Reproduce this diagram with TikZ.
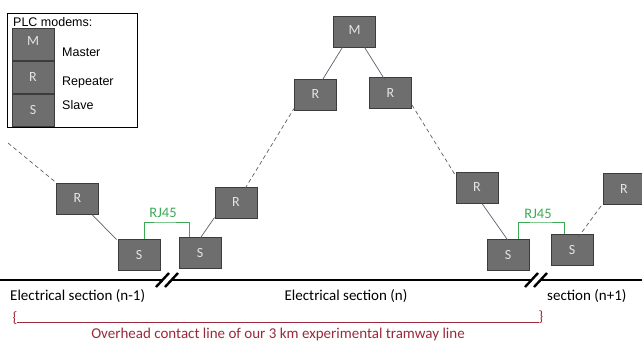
\documentclass[tikz,border=0pt]{standalone}
\usepackage{fontspec}
\setmainfont{Carlito}
\newfontfamily\arialf{Liberation Sans}
\definecolor{boxfill}{HTML}{6E6E6E}
\definecolor{boxborder}{HTML}{3C3C3C}
\definecolor{boxtext}{HTML}{E4E4E4}
\definecolor{linkgray}{HTML}{5E5E6E}
\definecolor{rjgreen}{HTML}{3DAA55}
\definecolor{darkred}{HTML}{9A2A3A}
\tikzset{
  modem/.style={draw=boxborder, fill=boxfill, line width=1pt, minimum width=42pt,
    minimum height=31pt, inner sep=0pt, text=boxtext, font=\fontsize{14}{16}\selectfont},
  link/.style={draw=linkgray, line width=0.7pt},
  dlink/.style={link, dash pattern=on 4pt off 3pt},
  rj/.style={draw=rjgreen, line width=0.8pt},
  track/.style={draw=black, line width=2.6pt},
  slash/.style={draw=black, line width=2.4pt},
  sect/.style={font=\fontsize{15}{17}\selectfont, text=black, inner sep=0pt},
  rjlab/.style={font=\fontsize{14.5}{16}\selectfont, text=rjgreen, inner sep=0pt},
  leg/.style={font=\arialf\fontsize{12.5}{14}\selectfont, text=black, inner sep=0pt, anchor=west},
  brace/.style={text=darkred, font=\fontsize{15}{17}\selectfont, inner sep=0pt},
}
\begin{document}
\begin{tikzpicture}[x=1pt,y=-1pt]
\useasboundingbox (0,0) rectangle (642,341);
\fill[white] (0,0) rectangle (642,341);

% legend
\draw[black, line width=0.8pt] (7,13) rectangle (137,127);
\node[leg] (legtitle) at (13,22) {PLC modems:};
\node[modem, minimum height=32pt] (lm) at (33,44) {\raisebox{5pt}{M}};
\node[modem, minimum height=32pt] (lr) at (33,77) {R};
\node[modem, minimum height=32pt] (ls) at (33,110.5) {\raisebox{-5pt}{S}};
\node[leg] (lmt) at (62,52) {Master};
\node[leg] (lrt) at (62,82) {Repeater};
\node[leg] (lst) at (62,105) {Slave};

% modems
\node[modem] (M) at (354.5,31.5) {\raisebox{2pt}{M}};
\node[modem] (RL) at (315.5,94.5) {\raisebox{-4pt}{R}};
\node[modem] (RR) at (390.5,93) {R};
\node[modem] (R1) at (77.5,198.5) {R};
\node[modem] (S1) at (139,254.5) {\raisebox{-2pt}{S}};
\node[modem] (S2) at (200,252.5) {\raisebox{-2pt}{S}};
\node[modem] (R2) at (236,202.5) {R};
\node[modem] (R3) at (477,187.5) {R};
\node[modem] (S3) at (508,254.5) {\raisebox{-2pt}{S}};
\node[modem] (S4) at (572,249.5) {S};
\node[modem] (R4) at (624,189) {R};

% connectors
\coordinate (far) at (8,143);
\draw[dlink] (far) -- (R1.north west);
\draw[link] ([xshift=-7pt]R1.south east) -- ([xshift=-1pt,yshift=-1pt]S1.north west);
\draw[link] ([yshift=-2pt]S2.north) -- ([yshift=1pt]R2.south west);
\draw[dlink] ([xshift=9pt,yshift=-2pt]R2.north) -- ([yshift=2pt]RL.south west);
\draw[link] ([xshift=6.5pt,yshift=-2pt]RL.north) -- ([xshift=-11.5pt,yshift=1pt]M.south);
\draw[link] ([xshift=9.5pt,yshift=1pt]M.south) -- ([xshift=-5.5pt,yshift=-3pt]RR.north);
\draw[dlink] ([yshift=4pt]RR.south east) -- ([yshift=-4pt]R3.north west);
\draw[link] ([xshift=5pt]R3.south) -- ([yshift=-2pt]S3.north);
\draw[dlink] ([xshift=6pt,yshift=-4pt]S4.north) -- ([yshift=1pt]R4.south west);

% RJ45 links
\draw[rj] ([xshift=5pt]S1.north) |- (163,222) -| ([xshift=-11pt]S2.north);
\node[rjlab] (rj1) at (163,213) {RJ45};
\draw[rj] ([xshift=10pt]S3.north) |- (541,222) -| ([xshift=-8pt]S4.north);
\node[rjlab] (rj2) at (538,214) {RJ45};

% track
\coordinate (t0) at (0,280);
\coordinate (t1) at (162,280);
\coordinate (t2) at (171,280);
\coordinate (t3) at (531,280);
\coordinate (t4) at (540,280);
\coordinate (t5) at (642,280);
\draw[track] (t0) -- (t1);
\draw[track] (t2) -- (t3);
\draw[track] (t4) -- (t5);
\draw[slash] (156,287) -- (169,273);
\draw[slash] (165,287) -- (178,273);
\draw[slash] (525,287) -- (538,273);
\draw[slash] (534,287) -- (547,273);

% section labels
\node[sect, anchor=west] (sec1) at (10,296) {Electrical section (n-1)};
\node[sect] (sec2) at (346,296) {Electrical section (n)};
\node[sect, anchor=west] (sec3) at (547,296) {section (n+1)};

% overhead line brace
\node[brace] (lb) at (15,318) {\{};
\node[brace] (rb) at (541,317) {\}};
\coordinate (bl) at (17,322);
\coordinate (br) at (539,322);
\draw[darkred, line width=0.8pt] (bl) -- (br);
\node[text=darkred, font=\fontsize{15}{17}\selectfont, inner sep=0pt] (ohl) at (278,334) {Overhead contact line of our 3 km experimental tramway line};
\end{tikzpicture}
\end{document}
